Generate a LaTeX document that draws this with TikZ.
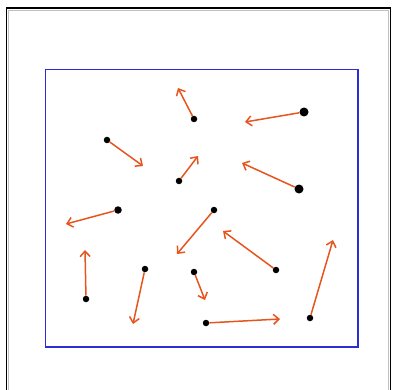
\documentclass[tikz,border=0pt]{standalone}
\usetikzlibrary{arrows.meta}
\definecolor{vec}{RGB}{230,85,30}
\definecolor{boxblue}{RGB}{45,45,215}
\begin{document}
\begin{tikzpicture}[x=1pt,y=-1pt,
  dot/.style={circle,fill=black,inner sep=0pt,minimum size=6.5pt},
  bigdot/.style={dot,minimum size=9pt},
  vecline/.style={draw=vec,line width=1.5pt,-{Straight Barb[length=5.5pt,width=10pt]}}]
\useasboundingbox (0,0) rectangle (393,390);
\draw[black,line width=1.8pt] (6.5,395) -- (6.5,8) -- (390.5,8) -- (390.5,395);
\draw[gray!50,line width=1pt] (8.8,395) -- (8.8,10.2) -- (388.4,10.2) -- (388.4,395);
\draw[boxblue,line width=1.9pt] (45.5,69.5) rectangle (358.3,346.7);

\node[dot] (d1) at (194,119) {};
\node[bigdot] (d2) at (304,112) {};
\node[dot] (d3) at (107,140) {};
\node[dot] (d4) at (179,181) {};
\node[bigdot] (d5) at (299,189) {};
\node[dot,minimum size=7.5pt] (d6) at (118,210) {};
\node[dot] (d7) at (214,210) {};
\node[dot] (d8) at (276,270) {};
\node[dot] (d9) at (310,318) {};
\node[dot] (d10) at (86,299) {};
\node[dot] (d11) at (145,269) {};
\node[dot] (d12) at (194,272) {};
\node[dot] (d13) at (206,323) {};

\coordinate (e1) at (178,88);
\coordinate (e2) at (245,122);
\coordinate (e3) at (143,166);
\coordinate (e4) at (198,156);
\coordinate (e5) at (242,163);
\coordinate (e6) at (66,224);
\coordinate (e7) at (177,254);
\coordinate (e8) at (223,231);
\coordinate (e9) at (333,240);
\coordinate (e10) at (85,250);
\coordinate (e11) at (133,324);
\coordinate (e12) at (205,300);
\coordinate (e13) at (280,319);

\foreach \i in {1,...,13} {
  \draw[vecline] (d\i) -- (e\i);
}
\end{tikzpicture}
\end{document}
